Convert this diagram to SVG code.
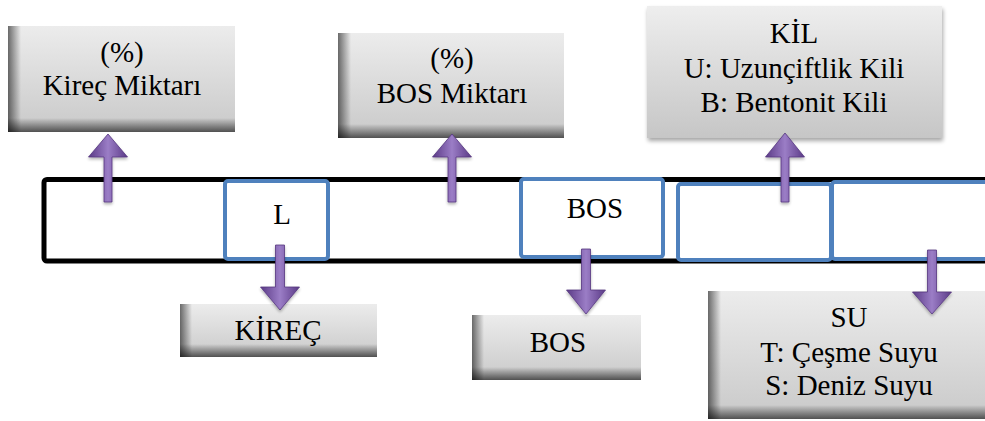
<svg xmlns="http://www.w3.org/2000/svg" width="985" height="421" viewBox="0 0 985 421">
<defs>
<linearGradient id="gv" x1="0" y1="0" x2="0" y2="1">
<stop offset="0" stop-color="#ececec"/><stop offset="1" stop-color="#c9c9c9"/>
</linearGradient>
<linearGradient id="gvc" x1="0" y1="0" x2="0" y2="1">
<stop offset="0" stop-color="#eeeeee"/><stop offset="1" stop-color="#c6c6c6"/>
</linearGradient>
<linearGradient id="bl" x1="0" y1="0" x2="1" y2="0">
<stop offset="0" stop-color="#000" stop-opacity="0.55"/><stop offset="1" stop-color="#000" stop-opacity="0"/>
</linearGradient>
<linearGradient id="bb" x1="0" y1="0" x2="0" y2="1">
<stop offset="0" stop-color="#000" stop-opacity="0"/><stop offset="1" stop-color="#000" stop-opacity="0.6"/>
</linearGradient>
<linearGradient id="ap" x1="0" y1="0" x2="1" y2="0">
<stop offset="0" stop-color="#5a3a86"/><stop offset="0.5" stop-color="#9b7dc6"/><stop offset="1" stop-color="#5a3a86"/>
</linearGradient>
<filter id="sh" x="-20%" y="-20%" width="140%" height="140%">
<feGaussianBlur in="SourceAlpha" stdDeviation="2"/><feOffset dx="1" dy="3"/>
<feComponentTransfer><feFuncA type="linear" slope="0.35"/></feComponentTransfer>
<feMerge><feMergeNode/><feMergeNode in="SourceGraphic"/></feMerge>
</filter>
<filter id="ash" x="-50%" y="-20%" width="200%" height="150%">
<feGaussianBlur in="SourceAlpha" stdDeviation="1.5"/><feOffset dx="0" dy="2"/>
<feComponentTransfer><feFuncA type="linear" slope="0.3"/></feComponentTransfer>
<feMerge><feMergeNode/><feMergeNode in="SourceGraphic"/></feMerge>
</filter>
</defs>
<style>
.t{font-family:"Liberation Serif","Times New Roman",serif;font-size:29px;fill:#000;text-anchor:middle}
.blue{fill:#fff;stroke:#4f81bd;stroke-width:4}
.arr{fill:url(#ap);stroke:#55367f;stroke-width:0.8;filter:url(#ash)}
</style>
<rect width="985" height="421" fill="#fff"/>

<g id="band">
<rect x="44" y="179.5" width="960" height="81.5" rx="3" fill="#fff" stroke="#000" stroke-width="5"/>
</g>

<g id="slot-L"><rect class="blue" x="225" y="181" width="103" height="78" rx="3"/><text class="t" x="282" y="224">L</text></g>
<g id="slot-BOS"><rect class="blue" x="521" y="179" width="142" height="78" rx="3"/><text class="t" x="595" y="218">BOS</text></g>
<g id="slot-KIL"><rect class="blue" x="678" y="184" width="153" height="76" rx="3"/></g>
<g id="slot-SU"><rect class="blue" x="832" y="182" width="170" height="77" rx="3"/></g>

<g id="box-kirec-miktari">
<rect x="8" y="26" width="227" height="106" fill="url(#gv)"/>
<rect x="8" y="26" width="13" height="106" fill="url(#bl)"/>
<rect x="8" y="118" width="227" height="14" fill="url(#bb)"/>
<text class="t" x="122" y="62">(%)</text>
<text class="t" x="122" y="95">Kireç Miktarı</text>
</g>

<g id="box-bos-miktari">
<rect x="338" y="33" width="226" height="105" fill="url(#gv)"/>
<rect x="338" y="33" width="13" height="105" fill="url(#bl)"/>
<rect x="338" y="124" width="226" height="14" fill="url(#bb)"/>
<text class="t" x="452" y="68">(%)</text>
<text class="t" x="452" y="103">BOS Miktarı</text>
</g>

<g id="box-kil">
<rect x="647" y="6" width="295" height="132" fill="url(#gvc)" filter="url(#sh)"/>
<text class="t" x="794" y="43">KİL</text>
<text class="t" x="794" y="78">U: Uzunçiftlik Kili</text>
<text class="t" x="794" y="112">B: Bentonit Kili</text>
</g>

<g id="box-kirec">
<rect x="180" y="304" width="197" height="53" fill="url(#gv)"/>
<rect x="180" y="304" width="12" height="53" fill="url(#bl)"/>
<rect x="180" y="344" width="197" height="13" fill="url(#bb)"/>
<text class="t" x="278" y="340">KİREÇ</text>
</g>

<g id="box-bos">
<rect x="472" y="315" width="169" height="65" fill="url(#gv)"/>
<rect x="472" y="315" width="12" height="65" fill="url(#bl)"/>
<rect x="472" y="367" width="169" height="13" fill="url(#bb)"/>
<text class="t" x="558" y="352">BOS</text>
</g>

<g id="box-su">
<rect x="708" y="291" width="290" height="128" fill="url(#gv)"/>
<rect x="708" y="291" width="13" height="128" fill="url(#bl)"/>
<rect x="708" y="405" width="290" height="14" fill="url(#bb)"/>
<text class="t" x="849" y="327">SU</text>
<text class="t" x="849" y="362">T: Çeşme Suyu</text>
<text class="t" x="849" y="395">S: Deniz Suyu</text>
</g>

<g id="connectors">
<path class="arr" d="M104,202 V157 H88.5 L108,134 L127.5,157 H112 V202 Z"/>
<path class="arr" d="M448,202 V157 H432.5 L452,134 L471.5,157 H456 V202 Z"/>
<path class="arr" d="M781,202 V157 H765.5 L785,133 L804.5,157 H789 V202 Z"/>
<path class="arr" d="M275.5,245 V287 H260.5 L280,310 L299.5,287 H284.5 V245 Z"/>
<path class="arr" d="M581.5,249 V290 H566.5 L586,314 L605.5,290 H590.5 V249 Z"/>
<path class="arr" d="M927.5,250 V292 H912.5 L932,314 L951.5,292 H936.5 V250 Z"/>
</g>
</svg>
